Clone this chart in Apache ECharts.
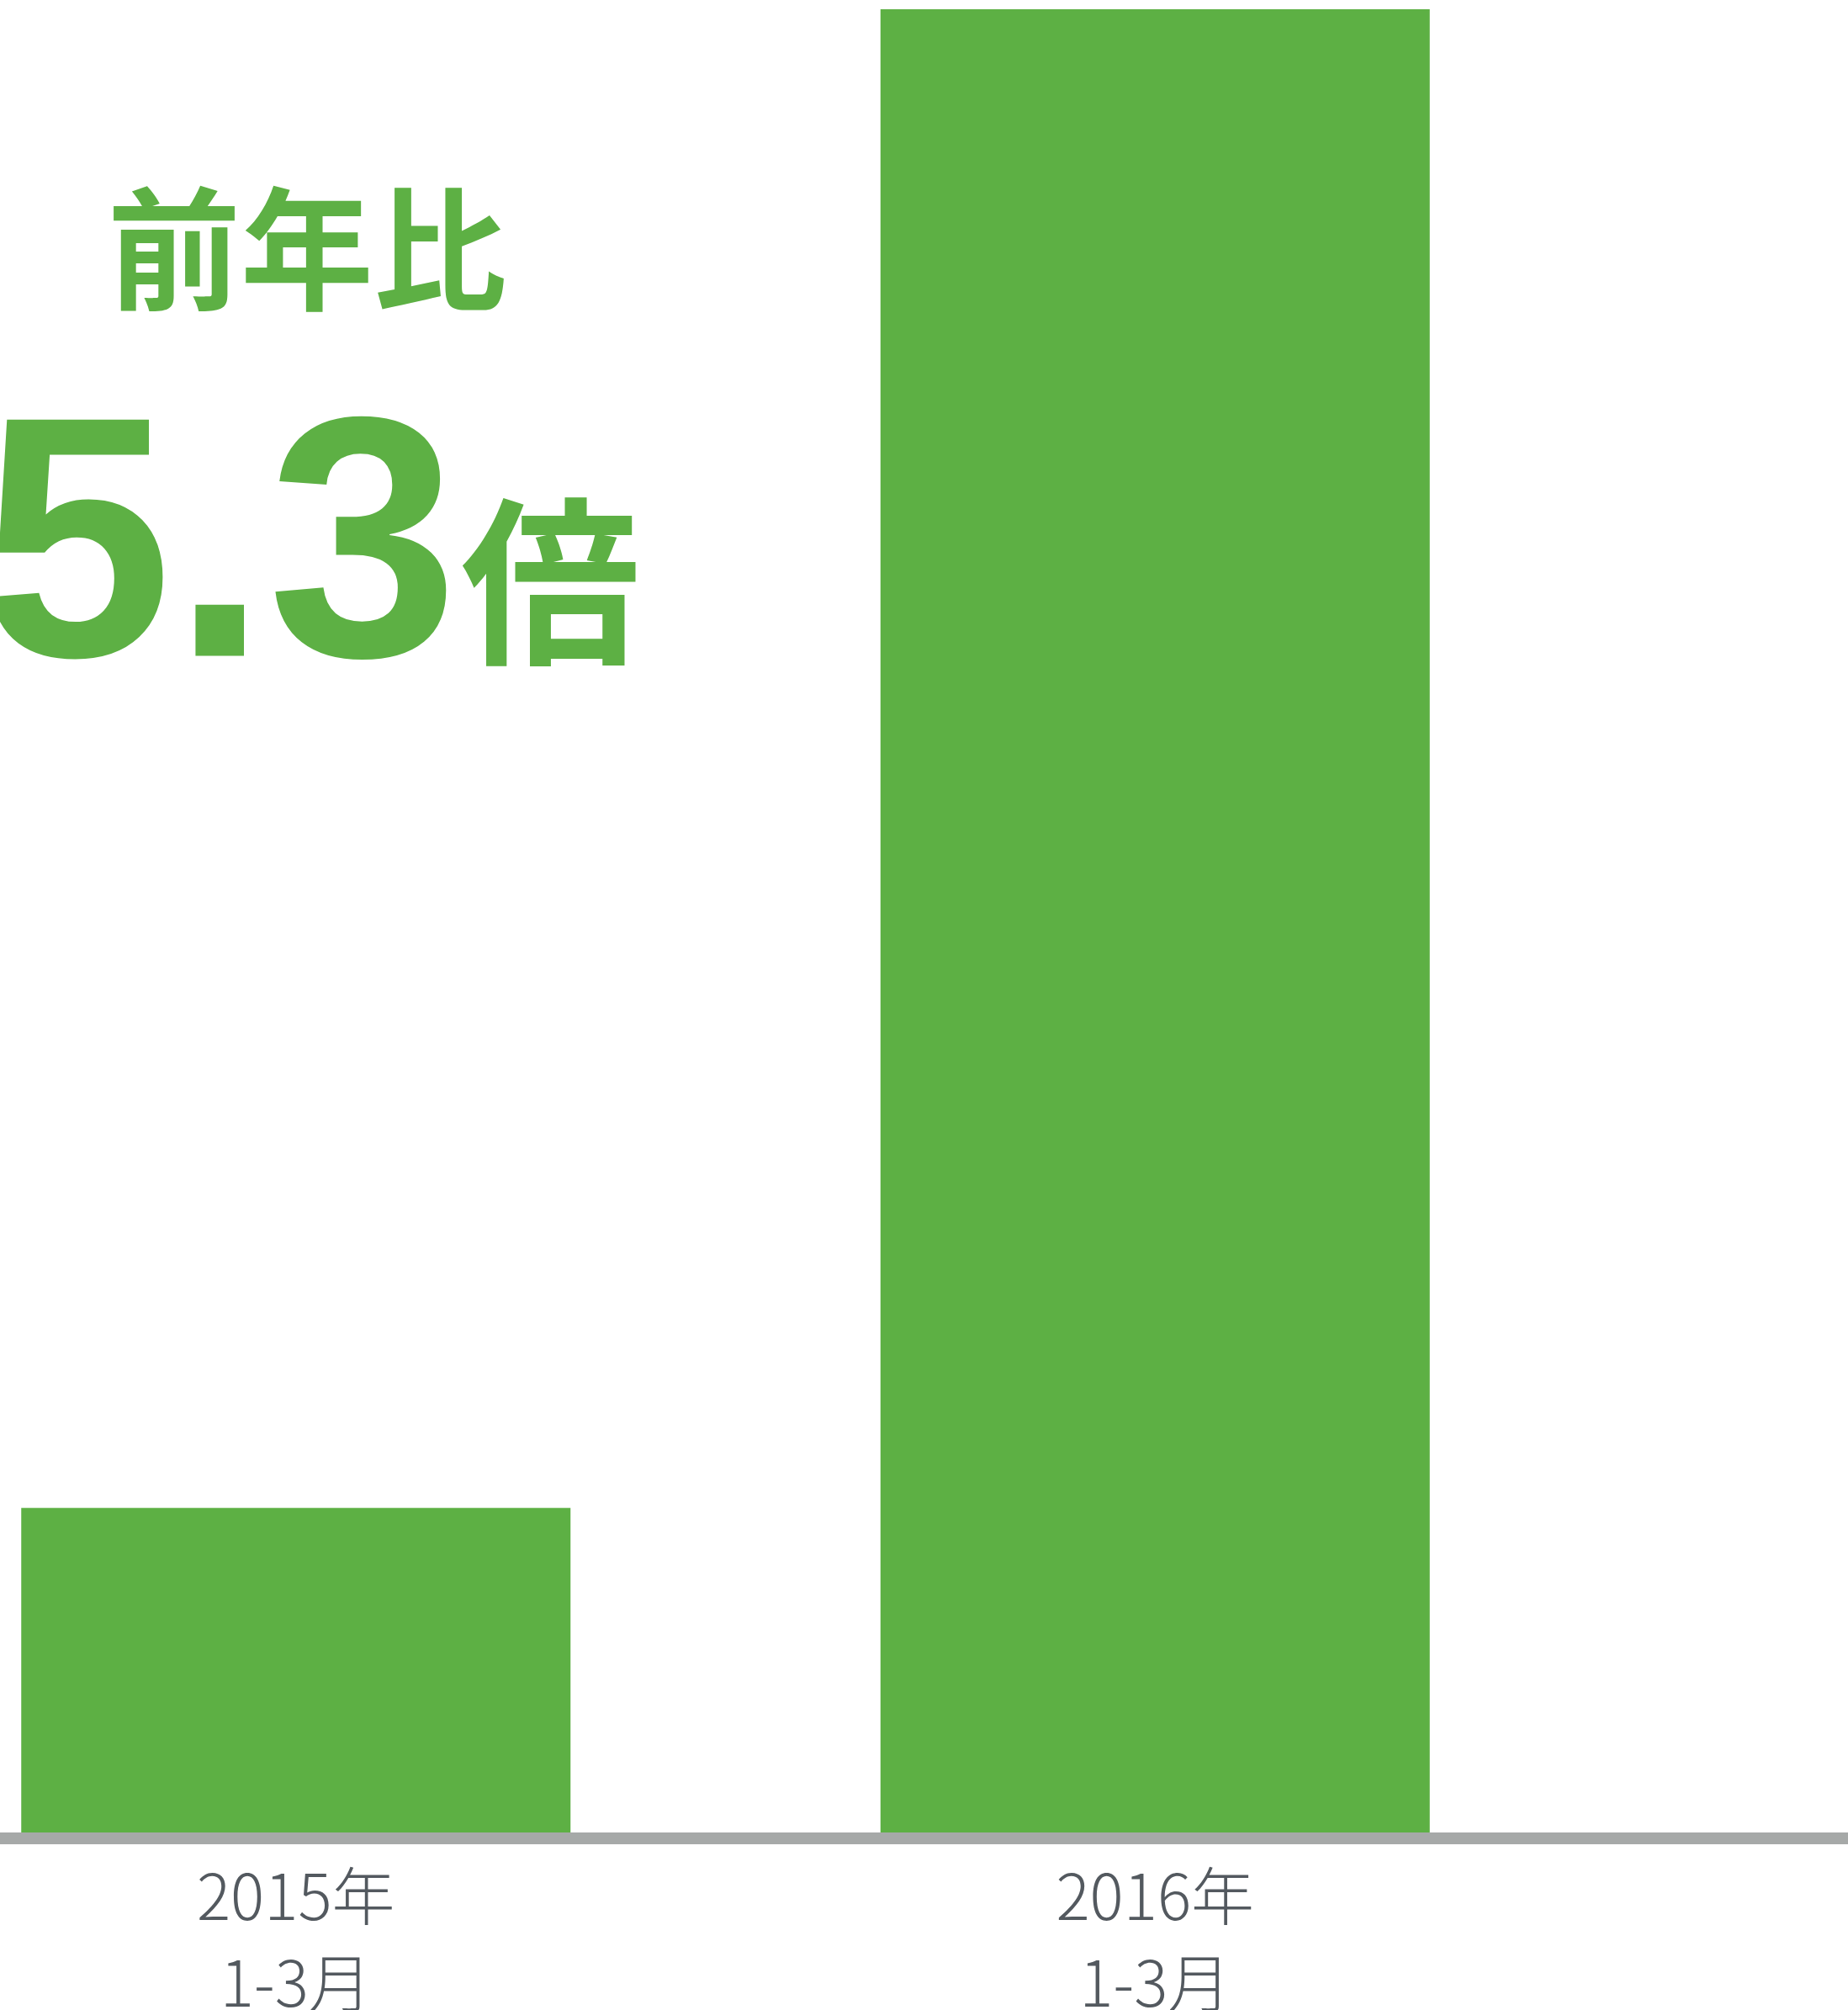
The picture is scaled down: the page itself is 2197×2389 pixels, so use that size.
<!DOCTYPE html>
<html>
<head>
<meta charset="utf-8">
<title>前年比</title>
<script src="https://cdn.jsdelivr.net/npm/echarts@6/dist/echarts.min.js"></script>
<style>
    html, body { margin: 0; padding: 0; background: #fff; }
    #chart { width: 2197px; height: 2389px; }
</style>
</head>
<body>
<div id="chart"></div>
<script>
    //横轴类目
    let categories = ['2015年\n1-3月', '2016年\n1-3月'];
    //柱子数值（按图中高度读取）
    let values = [17.8, 100];
    //纵轴范围
    let yMax = 100;
    //标注文字
    let ratioTitle = '前年比';
    let ratioValue = '5.3';
    let ratioUnit = '倍';

    //颜色
    let green = '#5db044';
    let gray = '#a6a9a8';

    let myChart = echarts.init(document.getElementById('chart'));

    let option = {
        animation: false,
        //图表外边框
        grid: {
            top: 11,
            bottom: 211,
            left: -159,
            right: 313,
            outerBoundsMode: 'none'
        },
        xAxis: {
            type: 'category',
            data: categories,
            axisLine: { show: false },
            axisTick: { show: false },
            axisLabel: {
                margin: 24,
                fontSize: 75,
                lineHeight: 103,
                fontWeight: 300,
                fontFamily: 'Noto Sans CJK JP',
                color: '#53595f'
            }
        },
        yAxis: {
            type: 'value',
            min: 0,
            max: yMax,
            show: false,
            splitLine: { show: false }
        },
        series: [{
            type: 'bar',
            data: values,
            barWidth: 653,
            itemStyle: { color: green }
        }],
        graphic: [
            //底部横线
            {
                type: 'rect',
                left: 0,
                top: 2178,
                shape: { width: 2197, height: 14 },
                style: { fill: gray },
                z: 10
            },
            //前年比
            {
                type: 'text',
                x: 365,
                y: 296,
                style: {
                    text: ratioTitle,
                    fontSize: 158,
                    fontWeight: 'bold',
                    fontFamily: 'Noto Sans CJK JP',
                    fill: green,
                    textAlign: 'center',
                    textVerticalAlign: 'middle'
                }
            },
            //5.3
            {
                type: 'text',
                x: 545,
                y: 667,
                style: {
                    text: ratioValue,
                    fontSize: 408,
                    fontWeight: 'bold',
                    fontFamily: 'Liberation Sans',
                    fill: green,
                    textAlign: 'right',
                    textVerticalAlign: 'middle'
                }
            },
            //倍
            {
                type: 'text',
                x: 548,
                y: 691,
                style: {
                    text: ratioUnit,
                    fontSize: 213,
                    fontWeight: 'bold',
                    fontFamily: 'Noto Sans CJK JP',
                    fill: green,
                    textAlign: 'left',
                    textVerticalAlign: 'middle'
                }
            }
        ]
    };

    myChart.setOption(option);
</script>
</body>
</html>
